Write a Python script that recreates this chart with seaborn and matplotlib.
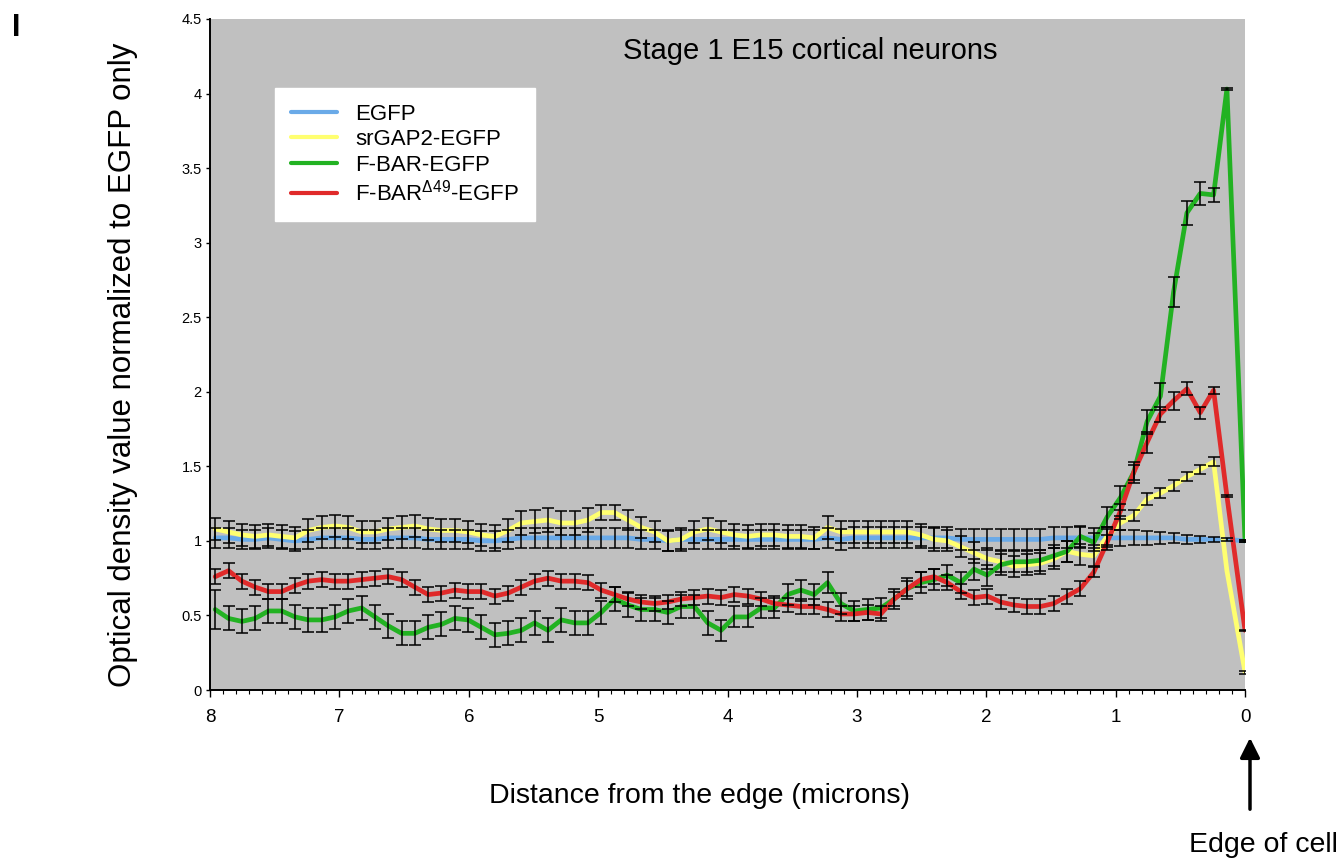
import numpy as np
import pandas as pd
import matplotlib
matplotlib.use("Agg")
import matplotlib.pyplot as plt
from matplotlib.ticker import MultipleLocator, FuncFormatter
import seaborn as sns

SERIES = ["EGFP", "srGAP2-EGFP", "F-BAR-EGFP", r"F-BAR$^{\Delta49}$-EGFP"]
COLORS = ["#6aaae8", "#ffff70", "#22b222", "#e02a2a"]

# distance from the edge (microns): 77 sampling points, then the edge itself
distance = list(np.round(np.linspace(7.96, 0.14, 77), 3)) + [0.0]

egfp = [1.02, 1.02, 1.01, 1.01, 1.02, 1.01, 1.00, 1.01, 1.02, 1.02, 1.02, 1.01, 1.01,
        1.02, 1.02, 1.02, 1.01, 1.01, 1.01, 1.01, 1.00, 1.00, 1.01, 1.02, 1.02,
        1.02, 1.02, 1.02, 1.02, 1.02, 1.02, 1.02, 1.01, 1.01, 1.00, 1.01, 1.01,
        1.01, 1.01, 1.01, 1.01, 1.01, 1.01, 1.01, 1.01, 1.01, 1.02, 1.01,
        1.02, 1.02, 1.02, 1.02, 1.02, 1.02, 1.02, 1.02, 1.01, 1.01, 1.01, 1.01,
        1.01, 1.01, 1.01, 1.02, 1.02, 1.02, 1.02, 1.02, 1.02, 1.02, 1.02, 1.02,
        1.02, 1.01, 1.01, 1.01, 1.01, 1.00]
egfp_err = [0.065, 0.065, 0.065, 0.065, 0.065, 0.065, 0.065, 0.065, 0.065, 0.065,
            0.065, 0.065, 0.065, 0.065, 0.065, 0.065, 0.065, 0.065, 0.065, 0.065,
            0.065, 0.065, 0.065, 0.065, 0.065, 0.065, 0.065, 0.065, 0.065, 0.065,
            0.065, 0.065, 0.065, 0.065, 0.065, 0.065, 0.065, 0.065, 0.065, 0.065,
            0.065, 0.065, 0.065, 0.065, 0.065, 0.065, 0.065, 0.07, 0.07, 0.07,
            0.07, 0.07, 0.07, 0.07, 0.07, 0.07, 0.07, 0.07, 0.07, 0.07,
            0.07, 0.07, 0.07, 0.07, 0.07, 0.07, 0.065, 0.06, 0.055, 0.05,
            0.045, 0.04, 0.035, 0.03, 0.025, 0.015, 0.01, 0.005]

srgap = [1.08, 1.06, 1.04, 1.03, 1.04, 1.03, 1.02, 1.07, 1.09, 1.10, 1.09, 1.06, 1.06,
         1.08, 1.09, 1.10, 1.08, 1.07, 1.07, 1.06, 1.04, 1.03, 1.07, 1.12, 1.13,
         1.14, 1.12, 1.12, 1.14, 1.19, 1.19, 1.14, 1.09, 1.06, 1.00, 1.01, 1.06,
         1.08, 1.06, 1.04, 1.03, 1.04, 1.04, 1.03, 1.03, 1.02, 1.09, 1.06,
         1.06, 1.06, 1.06, 1.06, 1.06, 1.04, 1.01, 1.00, 0.96, 0.92, 0.88, 0.86,
         0.83, 0.84, 0.85, 0.88, 0.93, 0.91, 0.90, 1.03, 1.12, 1.17, 1.28, 1.32,
         1.37, 1.43, 1.48, 1.53, 0.80, 0.12]
srgap_err = [0.075, 0.075, 0.075, 0.075, 0.075, 0.075, 0.075, 0.075, 0.075, 0.075,
             0.075, 0.075, 0.075, 0.075, 0.075, 0.075, 0.075, 0.075, 0.075, 0.075,
             0.075, 0.075, 0.075, 0.08, 0.08, 0.08, 0.08, 0.08, 0.08, 0.05,
             0.05, 0.07, 0.07, 0.07, 0.07, 0.075, 0.075, 0.075, 0.075, 0.075,
             0.075, 0.075, 0.075, 0.075, 0.075, 0.075, 0.075, 0.075, 0.075, 0.075,
             0.075, 0.075, 0.075, 0.075, 0.075, 0.07, 0.07, 0.07, 0.07, 0.07,
             0.07, 0.07, 0.07, 0.07, 0.07, 0.07, 0.07, 0.06, 0.05, 0.04,
             0.04, 0.035, 0.035, 0.03, 0.03, 0.03, np.nan, 0.01]

fbar = [0.54, 0.48, 0.46, 0.48, 0.53, 0.53, 0.49, 0.47, 0.47, 0.49, 0.53, 0.55, 0.49,
        0.43, 0.38, 0.38, 0.42, 0.44, 0.48, 0.47, 0.42, 0.37, 0.38, 0.40, 0.45,
        0.40, 0.47, 0.45, 0.45, 0.52, 0.61, 0.57, 0.54, 0.54, 0.52, 0.56, 0.56,
        0.45, 0.40, 0.49, 0.49, 0.55, 0.55, 0.64, 0.67, 0.64, 0.72, 0.58,
        0.53, 0.54, 0.55, 0.61, 0.68, 0.72, 0.74, 0.77, 0.72, 0.81, 0.77, 0.84,
        0.86, 0.86, 0.87, 0.90, 0.93, 1.03, 0.99, 1.16, 1.29, 1.46, 1.80, 1.97,
        2.67, 3.20, 3.33, 3.32, 4.03, 1.00]
fbar_err = [0.13, 0.08, 0.08, 0.08, 0.08, 0.08, 0.08, 0.08, 0.08, 0.08,
            0.08, 0.08, 0.08, 0.08, 0.08, 0.08, 0.08, 0.08, 0.08, 0.08,
            0.08, 0.08, 0.08, 0.08, 0.08, 0.08, 0.08, 0.08, 0.08, 0.08,
            0.08, 0.08, 0.08, 0.08, 0.08, 0.08, 0.08, 0.08, 0.07, 0.07,
            0.07, 0.07, 0.07, 0.07, 0.07, 0.07, 0.07, 0.07, 0.07, 0.07,
            0.07, 0.07, 0.07, 0.07, 0.07, 0.07, 0.07, 0.07, 0.07, 0.07,
            0.07, 0.07, 0.07, 0.07, 0.07, 0.07, 0.06, 0.07, 0.08, 0.07,
            0.08, 0.09, 0.10, 0.08, 0.075, 0.045, 0.005, 0.005]

fbar_d49 = [0.76, 0.80, 0.73, 0.69, 0.66, 0.66, 0.70, 0.73, 0.74, 0.73, 0.73, 0.74, 0.75,
            0.76, 0.74, 0.69, 0.64, 0.65, 0.67, 0.66, 0.66, 0.63, 0.65, 0.69, 0.73,
            0.75, 0.73, 0.73, 0.72, 0.67, 0.64, 0.61, 0.59, 0.58, 0.59, 0.61, 0.62,
            0.63, 0.62, 0.64, 0.63, 0.61, 0.58, 0.57, 0.56, 0.56, 0.54, 0.51,
            0.51, 0.52, 0.51, 0.61, 0.68, 0.74, 0.76, 0.72, 0.66, 0.62, 0.63, 0.59,
            0.57, 0.56, 0.56, 0.58, 0.63, 0.68, 0.79, 0.99, 1.20, 1.46, 1.66, 1.85,
            1.94, 2.02, 1.86, 2.01, 1.30, 0.40]
fbar_d49_err = [0.05, 0.05, 0.05, 0.05, 0.05, 0.05, 0.05, 0.05, 0.05, 0.05,
                0.05, 0.05, 0.05, 0.05, 0.05, 0.05, 0.05, 0.05, 0.05, 0.05,
                0.05, 0.05, 0.05, 0.05, 0.05, 0.05, 0.05, 0.05, 0.05, 0.05,
                0.05, 0.05, 0.05, 0.05, 0.05, 0.05, 0.05, 0.05, 0.05, 0.05,
                0.05, 0.05, 0.05, 0.05, 0.05, 0.05, 0.05, 0.05, 0.05, 0.05,
                0.05, 0.05, 0.05, 0.05, 0.05, 0.05, 0.05, 0.05, 0.05, 0.05,
                0.05, 0.05, 0.05, 0.05, 0.05, 0.05, 0.035, 0.05, 0.05, 0.05,
                0.07, 0.05, 0.06, 0.045, 0.04, 0.025, 0.005, 0.005]

values = [egfp, srgap, fbar, fbar_d49]
errors = [egfp_err, srgap_err, fbar_err, fbar_d49_err]

df = pd.DataFrame({
    "distance": distance * 4,
    "value": egfp + srgap + fbar + fbar_d49,
    "series": [s for s in SERIES for _ in distance],
})

sns.set_theme(style="ticks", rc={"text.color": "black", "axes.labelcolor": "black",
                                 "xtick.color": "black", "ytick.color": "black"})
plt.rcParams["font.family"] = ["Liberation Sans", "DejaVu Sans"]
plt.rcParams["mathtext.default"] = "regular"

fig = plt.figure(figsize=(13.36, 8.58), dpi=100)
ax = fig.add_axes([0.1572, 0.1958, 0.7747, 0.7821])
ax.set_facecolor("#c0c0c0")

sns.lineplot(data=df, x="distance", y="value", hue="series", hue_order=SERIES,
             palette=COLORS, linewidth=3.4, ax=ax, errorbar=None, zorder=2)

for vals, errs in zip(values, errors):
    ax.errorbar(distance, vals, yerr=errs, fmt="none", ecolor="black",
                elinewidth=1.1, capsize=4.6, capthick=1.1, zorder=3)

ax.set_xlim(8, 0)
ax.set_ylim(0, 4.5)
ax.xaxis.set_major_locator(MultipleLocator(1))
ax.xaxis.set_minor_locator(MultipleLocator(0.1))
ax.yaxis.set_major_locator(MultipleLocator(0.5))
ax.yaxis.set_major_formatter(FuncFormatter(lambda v, _: f"{v:g}"))
ax.tick_params(axis="x", which="major", labelsize=13.5, length=5, width=1, pad=9)
ax.tick_params(axis="x", which="minor", length=3, width=0.8)
ax.tick_params(axis="y", labelsize=10.5, length=3, width=1, pad=3)
for side in ["top", "right"]:
    ax.spines[side].set_visible(False)
for side in ["left", "bottom"]:
    ax.spines[side].set_color("black")
    ax.spines[side].set_linewidth(1.4)

ax.set_xlabel("Distance from the edge (microns)", fontsize=20.5)
ax.xaxis.set_label_coords(0.473, -0.139)
ax.set_ylabel("Optical density value normalized to EGFP only", fontsize=22.5)
ax.yaxis.set_label_coords(-0.07, 0.484)

ax.text(0.58, 0.952, "Stage 1 E15 cortical neurons", transform=ax.transAxes,
        ha="center", va="center", fontsize=21)

handles, labels = ax.get_legend_handles_labels()
leg = ax.legend(handles, labels, loc="upper left", bbox_to_anchor=(0.063, 0.897),
                frameon=True, fancybox=False, framealpha=1, facecolor="white",
                edgecolor="white", fontsize=16, handlelength=2.1, labelspacing=0.2,
                borderpad=0.7, borderaxespad=0)
for line in leg.get_lines():
    line.set_linewidth(3)

ax.annotate("", xy=(1250 / 1336, 1 - 735 / 858), xytext=(1250 / 1336, 1 - 812 / 858),
            xycoords="figure fraction", textcoords="figure fraction",
            arrowprops=dict(arrowstyle="-|>", color="black", lw=2.5, mutation_scale=30))
fig.text(0.946, 1 - 845 / 858, "Edge of cell", ha="center", va="center", fontsize=20.5)
fig.text(0.009, 0.967, "I", ha="left", va="center", fontsize=22, weight="bold")

fig.savefig("out.png", dpi=100)
